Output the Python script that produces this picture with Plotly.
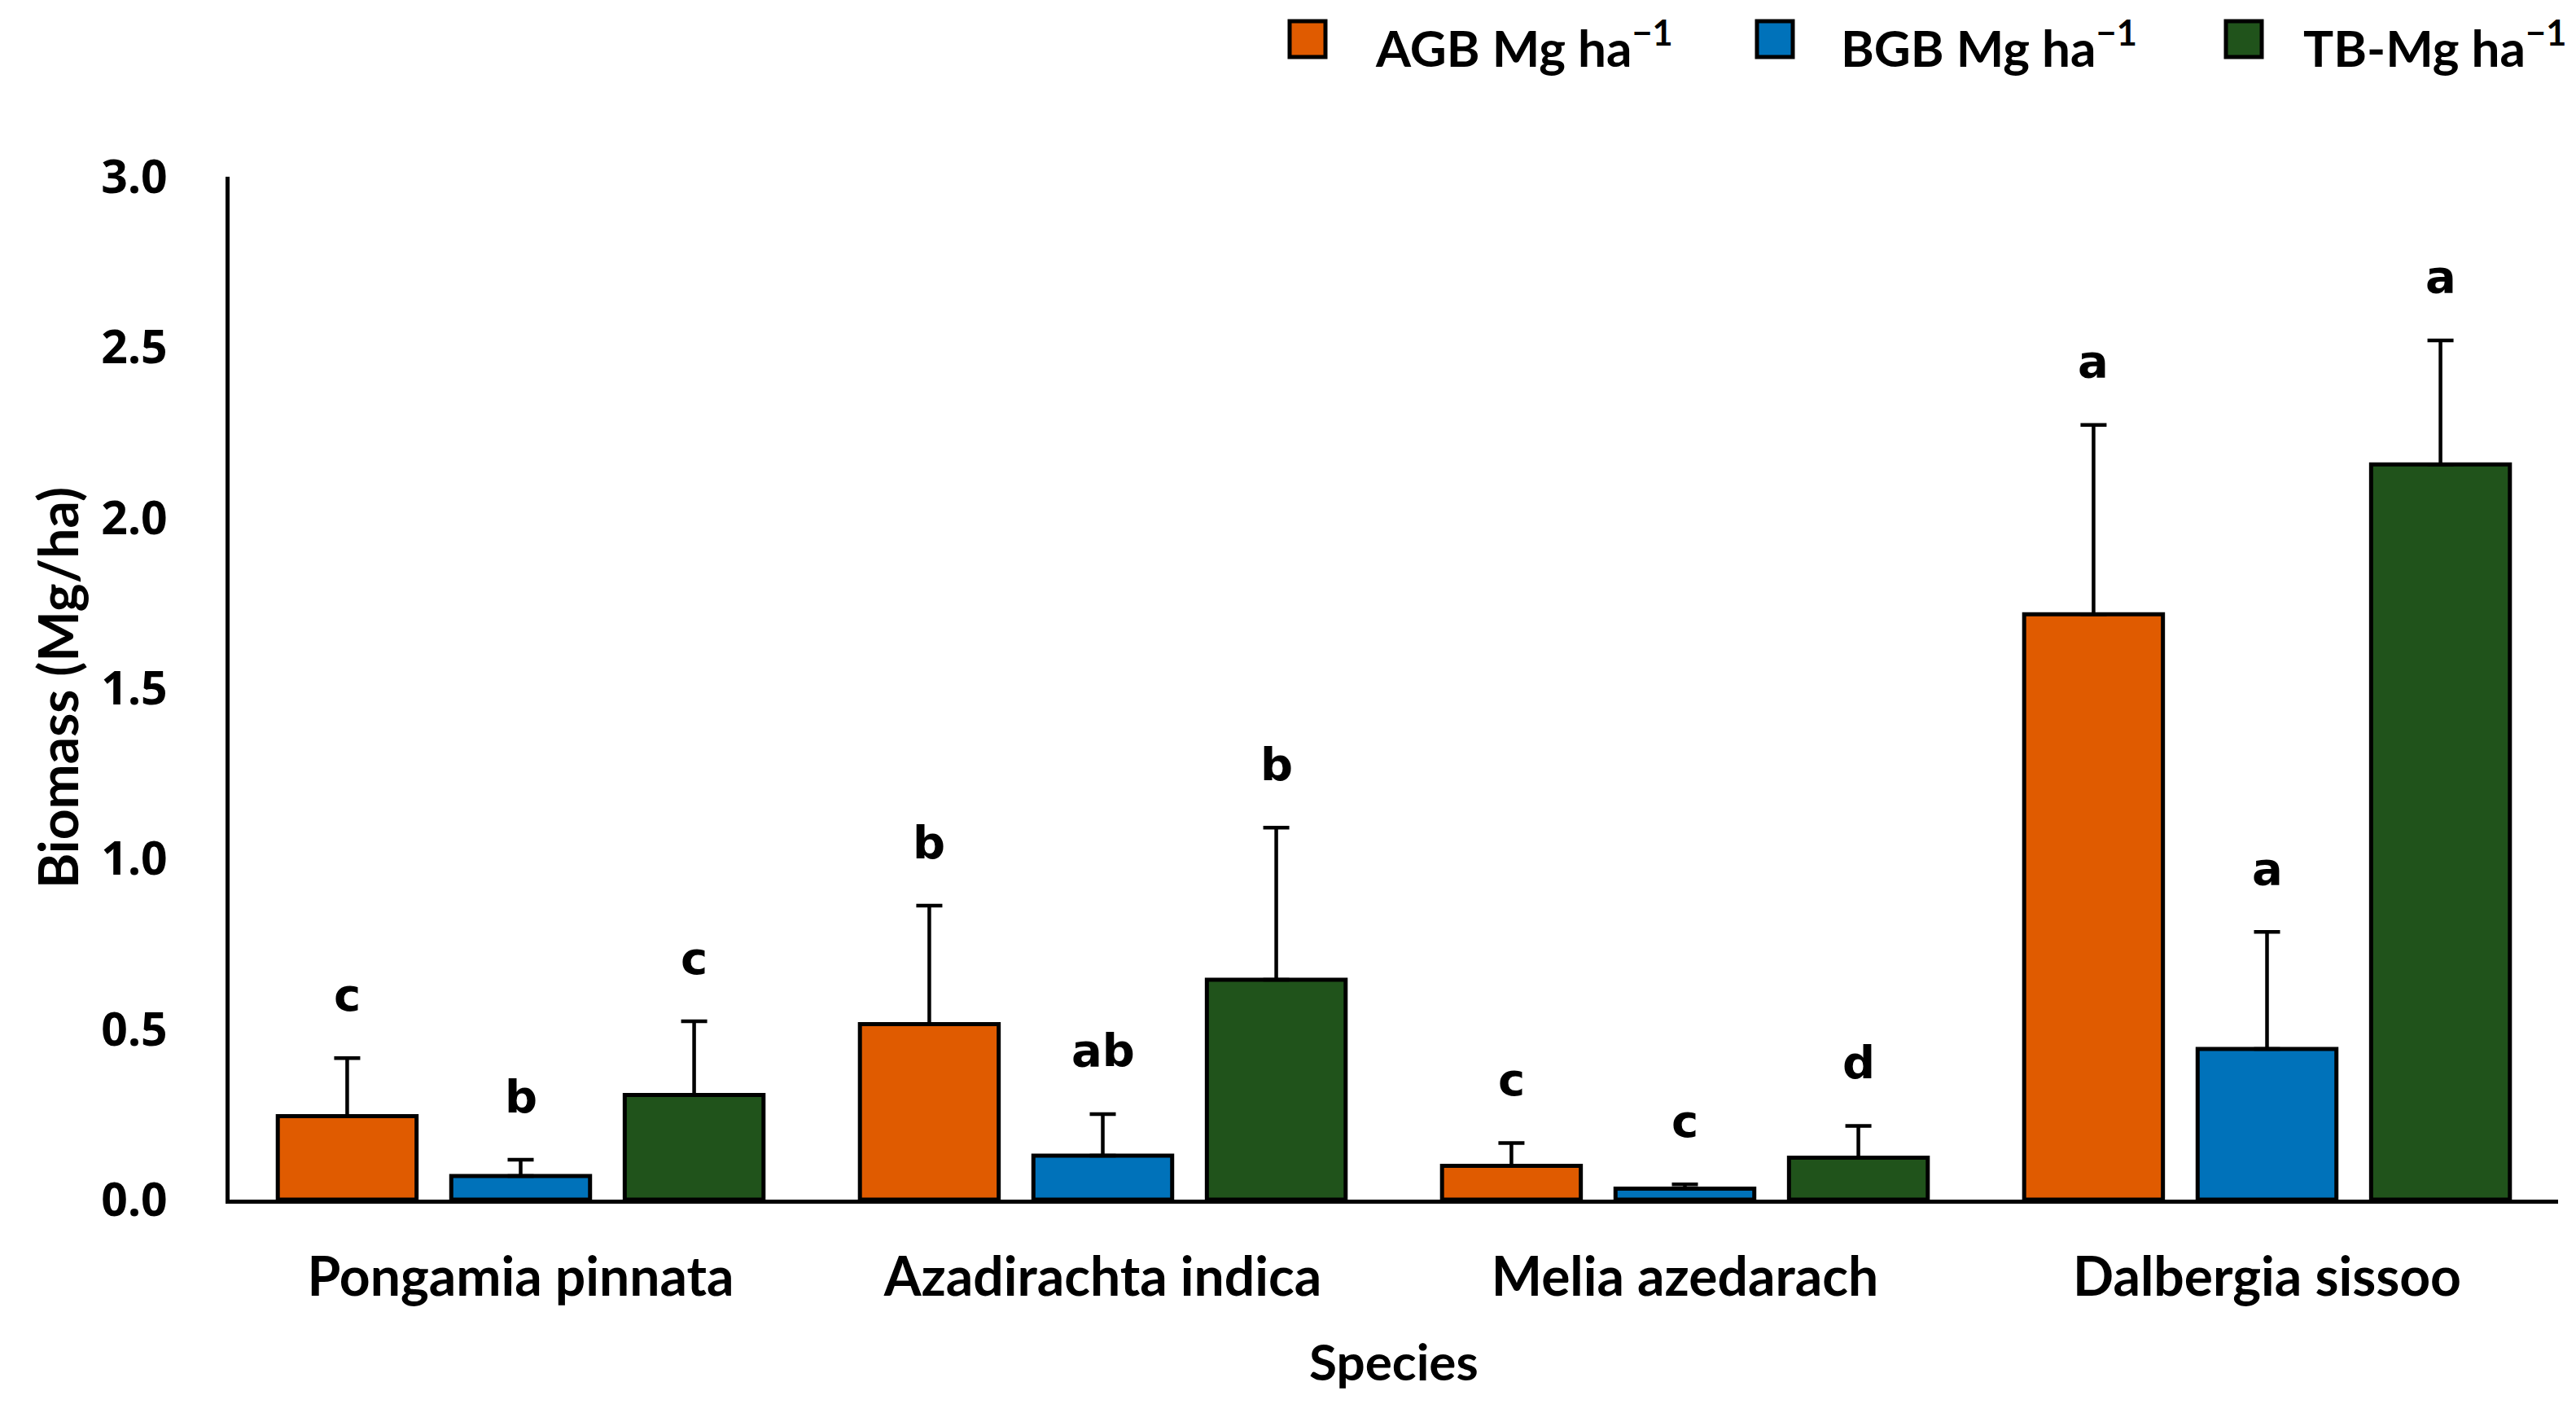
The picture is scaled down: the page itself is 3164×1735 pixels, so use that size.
import plotly.graph_objects as go

species = ["Pongamia pinnata", "Azadirachta indica", "Melia azedarach", "Dalbergia sissoo"]

# means and upper error bars (Mg/ha)
agb = [0.245, 0.515, 0.099, 1.717]
agb_err = [0.170, 0.347, 0.067, 0.555]
bgb = [0.069, 0.129, 0.032, 0.442]
bgb_err = [0.048, 0.122, 0.013, 0.343]
tb = [0.307, 0.645, 0.123, 2.156]
tb_err = [0.216, 0.446, 0.093, 0.364]

agb_letters = ["c", "b", "c", "a"]
bgb_letters = ["b", "ab", "c", "a"]
tb_letters = ["c", "b", "d", "a"]

names = ["AGB Mg ha<sup>\u22121</sup>", "BGB Mg ha<sup>\u22121</sup>", "TB-Mg ha<sup>\u22121</sup>"]
colors = ["#E05B00", "#0072BA", "#20531B"]

# the page body keeps its default 8px margin, so the figure is made a bit smaller
OFF = 8
W, H = 3164 - 2 * OFF, 1735 - 2 * OFF
ml, mr, mt, mb = 282 - OFF, 22 - OFF, 217 - OFF, 262 - OFF
plot_w = W - ml - mr
plot_h = H - mt - mb
bargap = 0.106
slot_px = plot_w / len(species) * (1 - bargap) / 3

tick_font = dict(family="Noto Sans", size=57, color="black", weight="bold")
lab_font = dict(family="Lato", size=62, color="black", weight="bold")

fig = go.Figure()
series = [(agb, agb_err, agb_letters), (bgb, bgb_err, bgb_letters), (tb, tb_err, tb_letters)]
for k, (vals, errs, letters) in enumerate(series):
    fig.add_trace(go.Bar(
        x=species, y=vals, name=names[k],
        marker=dict(color=colors[k], line=dict(color="black", width=5)),
        error_y=dict(type="data", symmetric=False, array=errs, arrayminus=[0] * len(errs),
                     color="black", thickness=4.5, width=16),
        showlegend=False,
    ))
    # significance letters sit above the error bar caps
    for i, sp in enumerate(species):
        fig.add_annotation(
            x=sp, y=vals[i] + errs[i], text=letters[i],
            showarrow=False, xshift=(k - 1) * slot_px, yshift=78, yanchor="middle",
            font=dict(family="DejaVu Sans", size=56, color="black", weight="bold"),
        )

# legend drawn by hand so the colour boxes get Excel-like size
leg_box_x = [1584, 2158, 2734]
leg_text_gap = [103, 101, 93]
for k in range(3):
    x0 = leg_box_x[k] - OFF
    fig.add_shape(type="rect", xref="paper", yref="paper",
                  x0=(x0 - ml) / plot_w, x1=(x0 + 44 - ml) / plot_w,
                  y0=(H - mb - (70 - OFF)) / plot_h, y1=(H - mb - (26 - OFF)) / plot_h,
                  fillcolor=colors[k], line=dict(color="black", width=5))
    fig.add_annotation(xref="paper", yref="paper",
                       x=(x0 + leg_text_gap[k] - ml) / plot_w, y=(H - mb - (54 - OFF)) / plot_h,
                       xanchor="left", yanchor="middle", showarrow=False,
                       text=names[k], font=lab_font)

fig.add_annotation(xref="paper", yref="paper", x=0, y=0.5, xshift=-212, textangle=-90,
                   xanchor="center", yanchor="middle", showarrow=False,
                   text="Biomass (Mg/ha)",
                   font=dict(family="Lato", size=66, color="black", weight="bold"))
fig.add_annotation(xref="paper", yref="paper", x=0.5, y=0, yshift=-198,
                   xanchor="center", yanchor="middle", showarrow=False,
                   text="Species", font=lab_font)

fig.update_layout(
    width=W, height=H,
    margin=dict(l=ml, r=mr, t=mt, b=mb),
    paper_bgcolor="white", plot_bgcolor="white",
    barmode="group", bargap=bargap, bargroupgap=0.2,
    showlegend=False,
)
fig.update_xaxes(showline=True, linecolor="black", linewidth=5, ticks="",
                 tickfont=dict(family="Lato", size=66, color="black", weight="bold"),
                 ticklabelstandoff=34, showgrid=False, zeroline=False)
fig.update_yaxes(range=[0, 3], dtick=0.5, tickformat=".1f", showline=True, linecolor="black",
                 linewidth=5, ticks="", tickfont=tick_font,
                 ticklabelstandoff=60, showgrid=False, zeroline=False)

fig.write_html("out.html")
